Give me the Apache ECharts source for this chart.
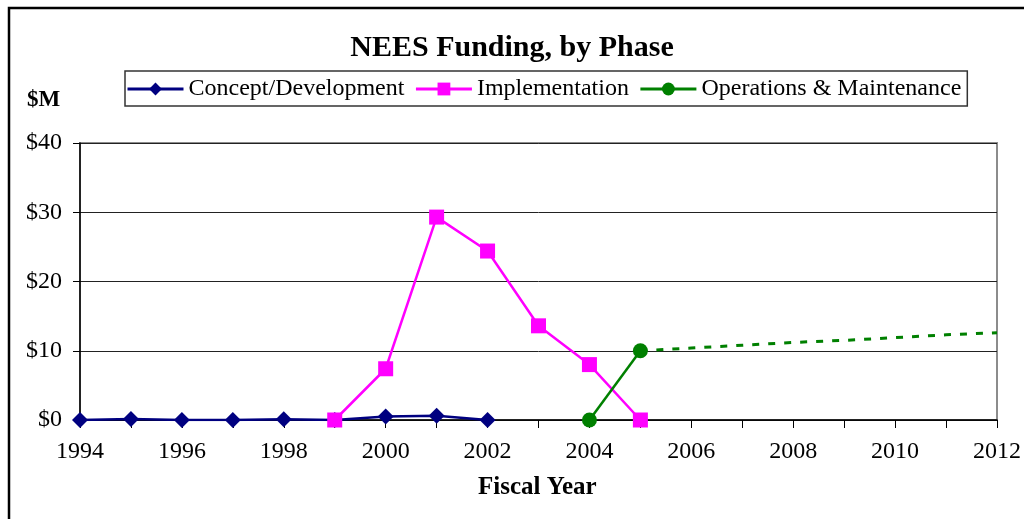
<!DOCTYPE html>
<html>
<head>
<meta charset="utf-8">
<script src="https://cdn.jsdelivr.net/npm/echarts@6/dist/echarts.min.js"></script>
<style>
  html, body { margin: 0; padding: 0; background: #fff; }
  #chart { width: 1024px; height: 519px; }
</style>
</head>
<body>
<div id="chart"></div>
<script>
// 数据
const conceptYears = [1994, 1995, 1996, 1997, 1998, 1999, 2000, 2001, 2002]
const conceptValues = [0, 0.15, 0, 0, 0.1, 0, 0.5, 0.6, 0]

const implYears = [1999, 2000, 2001, 2002, 2003, 2004, 2005]
const implValues = [0, 7.4, 29.3, 24.4, 13.6, 8.0, 0]

const omYears = [2004, 2005]
const omValues = [0, 10]

// 预测部分（虚线）
const projYears = [2005, 2006, 2007, 2008, 2009, 2010, 2011, 2012]
const projValues = [10, 10.4, 10.8, 11.2, 11.5, 11.9, 12.3, 12.6]

const yTicks = [0, 10, 20, 30, 40]

const pairs = (xs, ys) => xs.map((x, i) => [x, ys[i]])

const font = '"Liberation Serif", "DejaVu Serif", serif'

const chart = echarts.init(document.getElementById('chart'))

const option = {
  backgroundColor: '#fff',
  animation: false,
  textStyle: { fontFamily: font },
  title: {
    text: 'NEES Funding, by Phase',
    left: 'center',
    top: 28,
    textStyle: { fontFamily: font, fontSize: 30, fontWeight: 'bold', color: '#000' }
  },
  legend: {
    left: 125,
    top: 71,
    padding: [6, 6, 5, 1],
    borderColor: '#333',
    borderWidth: 1.5,
    itemWidth: 56,
    itemHeight: 16,
    itemGap: 10,
    lineStyle: { width: 3 },
    data: ['Concept/Development', 'Implementation', 'Operations & Maintenance'],
    textStyle: { fontFamily: font, fontSize: 24, color: '#000' }
  },
  graphic: [
    {
      type: 'rect',
      shape: { x: 9, y: 8, width: 1100, height: 530 },
      style: { fill: 'none', stroke: '#000', lineWidth: 2.5 },
      silent: true,
      z: 0
    },
    {
      type: 'text',
      left: 27,
      top: 89,
      style: { text: '$M', font: 'bold 23px ' + font, fill: '#000' }
    },
    {
      type: 'text',
      left: 478,
      top: 475,
      style: { text: 'Fiscal Year', font: 'bold 25px ' + font, fill: '#000' }
    }
  ],
  grid: {
    left: 80,
    right: 27,
    top: 143,
    bottom: 99,
    show: true,
    borderColor: '#8c8c8c',
    borderWidth: 2
  },
  xAxis: {
    type: 'value',
    min: 1994,
    max: 2012,
    interval: 1,
    axisLine: { show: true, onZero: false, lineStyle: { color: '#000', width: 1.5 } },
    axisTick: { show: true, length: 8, inside: false, lineStyle: { color: '#000' } },
    axisLabel: {
      color: '#000',
      fontSize: 24,
      margin: 20,
      fontFamily: font,
      formatter: (v) => (v % 2 === 0 ? String(v) : '')
    },
    splitLine: { show: false }
  },
  yAxis: {
    type: 'value',
    min: yTicks[0],
    max: yTicks[yTicks.length - 1],
    interval: 10,
    axisLine: { show: true, lineStyle: { color: '#000', width: 1.5 } },
    axisTick: { show: true, length: 7, lineStyle: { color: '#000' } },
    axisLabel: {
      color: '#000',
      fontSize: 24,
      margin: 18,
      fontFamily: font,
      formatter: (v) => '$' + v
    },
    splitLine: { show: true, lineStyle: { color: '#222', width: 1 } }
  },
  series: [
    {
      name: 'Concept/Development',
      type: 'line',
      data: pairs(conceptYears, conceptValues),
      symbol: 'diamond',
      symbolSize: 16,
      color: '#000080',
      lineStyle: { width: 2.5, color: '#000080' },
      itemStyle: { color: '#000080' },
      z: 3
    },
    {
      name: 'Implementation',
      type: 'line',
      data: pairs(implYears, implValues),
      symbol: 'rect',
      symbolSize: 15,
      color: '#ff00ff',
      lineStyle: { width: 2.5, color: '#ff00ff' },
      itemStyle: { color: '#ff00ff' },
      z: 4
    },
    {
      name: 'Operations & Maintenance',
      type: 'line',
      data: pairs(omYears, omValues),
      symbol: 'circle',
      symbolSize: 15,
      color: '#008000',
      lineStyle: { width: 2.5, color: '#008000' },
      itemStyle: { color: '#008000' },
      z: 5
    },
    {
      name: 'O&M projection',
      type: 'line',
      data: pairs(projYears, projValues),
      showSymbol: false,
      symbol: 'none',
      lineStyle: { width: 3, color: '#008000', type: [7, 9] },
      z: 2
    }
  ]
}

chart.setOption(option)
</script>
</body>
</html>
